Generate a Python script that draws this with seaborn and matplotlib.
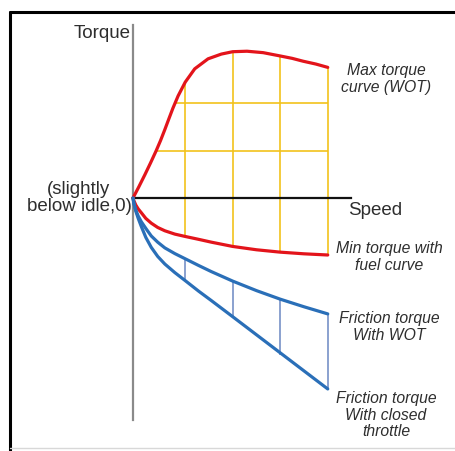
import numpy as np
import matplotlib
matplotlib.use("Agg")
import matplotlib.pyplot as plt
from matplotlib.lines import Line2D
import seaborn as sns

# Curves (speed vs torque, arbitrary units)
max_speed = [0, 0.12, 0.25, 0.37, 0.49, 0.58, 0.67, 0.76, 0.84, 0.95, 1.1, 1.3, 1.58, 1.86,
             2.1, 2.4, 2.74, 3.1, 3.35, 3.58, 3.85, 4.1]
max_torque = [0, 0.23, 0.49, 0.74, 1.0, 1.21, 1.44, 1.68, 1.89, 2.15, 2.44, 2.72, 2.93, 3.03,
              3.08, 3.09, 3.06, 2.99, 2.94, 2.88, 2.82, 2.75]

speed = [0, 0.02, 0.06, 0.11, 0.175, 0.27, 0.385, 0.52, 0.67, 0.88, 1.1, 1.38, 1.65,
         2.1, 2.6, 3.1, 3.6, 4.1]
min_torque = [0, -0.06, -0.15, -0.23, -0.31, -0.43, -0.53, -0.62, -0.69, -0.76, -0.81, -0.87,
              -0.93, -1.02, -1.09, -1.14, -1.175, -1.20]
wot_torque = [0, -0.12, -0.26, -0.38, -0.50, -0.64, -0.80, -0.93, -1.05, -1.17, -1.28, -1.42,
              -1.55, -1.75, -1.95, -2.13, -2.29, -2.44]
closed_torque = [0, -0.12, -0.28, -0.43, -0.60, -0.83, -1.04, -1.23, -1.39, -1.57, -1.74, -1.96,
                 -2.16, -2.50, -2.88, -3.26, -3.64, -4.02]

# Operating-map grid
grid_speed = [1.1, 2.1, 3.1, 4.1]
grid_top = [2.44, 3.08, 2.99, 2.75]
grid_bottom = [-0.81, -1.02, -1.14, -1.20]
grid_torque = [1.0, 2.0]
grid_torque_start = [0.49, 0.89]
fric_top = [-1.28, -1.75, -2.13, -2.44]
fric_bottom = [-1.74, -2.50, -3.30, -4.02]

RED = "#e3141b"
BLUE = "#2a6fb8"
YELLOW = "#f2c21b"
TXT = "#2e2e2e"

sns.set_theme(style="white")
plt.rcParams['font.family'] = ['Liberation Sans', 'DejaVu Sans']

fig = plt.figure(figsize=(4.56, 4.52), dpi=100)
ax = fig.add_axes([0, 0, 1, 1])
u = 47.5
ax.set_xlim(-133 / u, 323 / u)
ax.set_ylim((199 - 452) / u, 199 / u)

# yellow grid
ax.vlines(grid_speed, grid_bottom, grid_top, color=YELLOW, lw=1.2, zorder=1)
ax.hlines(grid_torque, grid_torque_start, grid_speed[-1], color=YELLOW, lw=1.2, zorder=1)
# friction hatching
ax.vlines(grid_speed, fric_bottom, fric_top, color="#6b88c2", lw=1.1, zorder=1)

line_kw = dict(ax=ax, lw=2.3, sort=False, estimator=None, zorder=3)
sns.lineplot(x=max_speed, y=max_torque, color=RED, **line_kw)
sns.lineplot(x=speed, y=min_torque, color=RED, **line_kw)
sns.lineplot(x=speed, y=wot_torque, color=BLUE, **line_kw)
sns.lineplot(x=speed, y=closed_torque, color=BLUE, **line_kw)

# axes through the origin
ax.spines['left'].set_position(('data', 0))
ax.spines['bottom'].set_position(('data', 0))
ax.spines['left'].set_bounds((199 - 421) / u, (199 - 26) / u)
ax.spines['bottom'].set_bounds(0, (351 - 133) / u)
ax.spines['left'].set_color("#8a8a8a")
ax.spines['left'].set_linewidth(1.6)
ax.spines['bottom'].set_color("#111111")
ax.spines['bottom'].set_linewidth(1.6)
ax.spines['bottom'].set_zorder(2)
for s in ['top', 'right']:
    ax.spines[s].set_visible(False)
ax.set_xticks([])
ax.set_yticks([])
ax.patch.set_alpha(0)

def px(x, y):
    return (x - 133) / u, (199 - y) / u

ax.text(*px(131, 34), "Torque", ha='right', va='center', fontsize=13.5, color=TXT)
ax.text(*px(348, 211), "Speed", ha='left', va='center', fontsize=13.5, color=TXT)
ax.text(*px(79, 198), "(slightly\nbelow idle,0)", ha='center', va='center',
        fontsize=13.5, color=TXT, linespacing=1.0)

it = dict(ha='center', va='center', fontsize=11.3, style='italic', color=TXT, linespacing=1.15)
ax.text(*px(386, 79), "Max torque\ncurve (WOT)", **it)
ax.text(*px(389, 257), "Min torque with\nfuel curve", **it)
ax.text(*px(389, 327), "Friction torque\nWith WOT", **it)
ax.text(*px(386, 415), "Friction torque\nWith closed\nthrottle", **it)

# outer frame
W, H = 456, 452
def fl(x0, y0, x1, y1, c, lw):
    fig.add_artist(Line2D([x0 / W, x1 / W], [1 - y0 / H, 1 - y1 / H], color=c, lw=lw,
                          transform=fig.transFigure))
fl(10, 13, 456, 13, "black", 2.2)
fl(10, 13, 10, 452, "black", 2.2)
fl(10, 449, 456, 449, "#d8d8d8", 1.0)

fig.savefig("out.png", dpi=100)
